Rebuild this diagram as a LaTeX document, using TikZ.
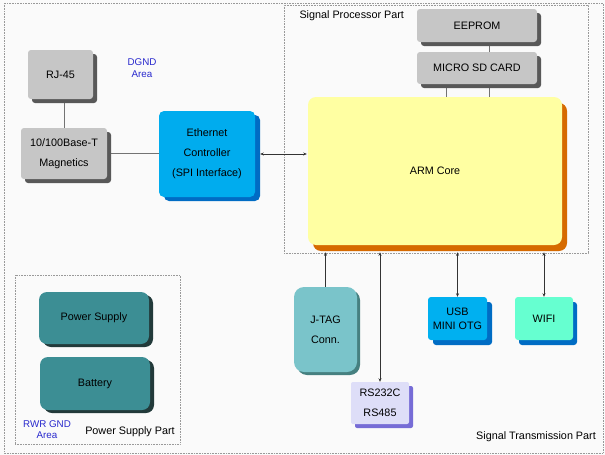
\documentclass[tikz,border=0pt]{standalone}
\usepackage{fontspec}
\setmainfont{Liberation Sans}
\usetikzlibrary{positioning, calc, shadows, arrows.meta}

\pgfdeclarelayer{bg}
\pgfsetlayers{bg,main}

\begin{document}
\begin{tikzpicture}[
    x=1pt, y=-1pt,
    block/.style={rectangle, draw=none, inner sep=0pt, anchor=center, align=center, font=\fontsize{10.8}{20}\selectfont},
    graybox/.style={block, rounded corners=3pt, fill=mygray, drop shadow={shadow xshift=4pt, shadow yshift=-4pt, fill=mygrayshadow, opacity=1}},
    ethbox/.style={block, rounded corners=5pt, fill=myblue, drop shadow={shadow xshift=5pt, shadow yshift=-4pt, fill=myblueshadow, opacity=1}},
    armbox/.style={block, rounded corners=8pt, fill=myyellow, drop shadow={shadow xshift=5pt, shadow yshift=-6pt, fill=myorange, opacity=1}},
    tealbox/.style={block, rounded corners=8pt, fill=myteal, drop shadow={shadow xshift=4pt, shadow yshift=-3pt, fill=mytealshadow, opacity=1}},
    jtagbox/.style={block, rounded corners=10pt, fill=myjtag, drop shadow={shadow xshift=3pt, shadow yshift=-3pt, fill=myjtagshadow, opacity=1}},
    rsbox/.style={block, rounded corners=2pt, fill=mylilac, drop shadow={shadow xshift=4pt, shadow yshift=-4pt, fill=mylilacshadow, opacity=1}},
    usbbox/.style={block, rounded corners=3pt, fill=myusb, drop shadow={shadow xshift=5pt, shadow yshift=-5pt, fill=myblueshadow, opacity=1}},
    wifibox/.style={block, rounded corners=3pt, fill=mywifi, drop shadow={shadow xshift=4pt, shadow yshift=-5pt, fill=myblueshadow, opacity=1}},
    part/.style={draw=gray!80, densely dotted, line width=0.6pt},
    part label/.style={font=\fontsize{10.8}{12}\selectfont},
    area label/.style={font=\fontsize{9.8}{12}\selectfont, text=myareablue, align=center},
    link/.style={draw=gray!90!black, line width=0.6pt},
    bus/.style={draw=black!80, line width=0.6pt, {Stealth[length=3.5pt,width=3pt]}-{Stealth[length=3.5pt,width=3pt]}},
    onebus/.style={draw=black!80, line width=0.6pt, -{Stealth[length=3.5pt,width=3pt]}}
]

% Define colors
\definecolor{mybg}{RGB}{250,250,250}
\definecolor{mygray}{RGB}{198,198,198}
\definecolor{mygrayshadow}{RGB}{88,88,88}
\definecolor{myblue}{RGB}{0,172,238}
\definecolor{myblueshadow}{RGB}{0,108,196}
\definecolor{myyellow}{RGB}{255,255,162}
\definecolor{myorange}{RGB}{214,106,0}
\definecolor{myteal}{RGB}{60,142,148}
\definecolor{mytealshadow}{RGB}{34,58,58}
\definecolor{myjtag}{RGB}{122,196,202}
\definecolor{myjtagshadow}{RGB}{70,128,128}
\definecolor{mylilac}{RGB}{222,222,248}
\definecolor{mylilacshadow}{RGB}{118,108,214}
\definecolor{myusb}{RGB}{0,176,240}
\definecolor{mywifi}{RGB}{102,255,208}
\definecolor{myareablue}{RGB}{40,40,205}

\useasboundingbox (0,0) rectangle (605,455);

% --- Background and part frames ---
\begin{pgfonlayer}{bg}
\fill[mybg] (0,0) rectangle (605,455);
\end{pgfonlayer}
\draw[part] (4,3) rectangle (603,453);
\node[part, rectangle, minimum width=304pt, minimum height=248pt, inner sep=0pt] (sppart) at (436,129) {};
\node[part, rectangle, minimum width=165pt, minimum height=169pt, inner sep=0pt] (pspart) at (97.5,359.5) {};

% --- Signal Processor Part ---
\node[graybox, minimum width=120pt, minimum height=33pt] (eeprom) at (477,25.5) {EEPROM};
\node[graybox, minimum width=120pt, minimum height=32pt] (microsd) at (477,68) {MICRO SD CARD};
\node[armbox, minimum width=254pt, minimum height=148pt] (arm) at (435,171) {ARM Core};

% --- DGND Area ---
\node[graybox, minimum width=65pt, minimum height=49pt] (rj) at (60.5,74.5) {RJ-45};
\node[graybox, minimum width=86pt, minimum height=51pt] (mag) at (64,153.5) {10/100Base-T\\Magnetics};
\node[ethbox, minimum width=96pt, minimum height=86pt] (eth) at (207,154) {Ethernet\\Controller\\(SPI Interface)};

% --- Power Supply Part ---
\node[tealbox, minimum width=110pt, minimum height=52pt] (power) at (94,318) {Power Supply};
\node[tealbox, minimum width=110pt, minimum height=53pt] (battery) at (95,383.5) {Battery};

% --- Signal Transmission Part ---
\node[jtagbox, minimum width=63pt, minimum height=85pt] (jtag) at (325.5,329.5) {J-TAG\\Conn.};
\node[rsbox, minimum width=58pt, minimum height=42pt] (rs) at (380,403) {RS232C\\RS485};
\node[usbbox, minimum width=59pt, minimum height=43pt, font=\fontsize{10.8}{14}\selectfont] (usb) at (457.5,318.5) {USB\\MINI OTG};
\node[wifibox, minimum width=58pt, minimum height=43pt] (wifi) at (544,318.5) {WIFI};

% --- Labels ---
\node[part label, anchor=west] (splabel) at (296,16) {Signal Processor Part};
\node[part label] (pslabel) at (130,432) {Power Supply Part};
\node[part label] (stlabel) at (536,437) {Signal Transmission Part};
\node[area label] (dgnd) at (142,68) {DGND\\Area};
\node[area label, font=\fontsize{9.8}{11}\selectfont] (rwr) at (47,429.5) {RWR GND\\Area};

% --- Connectors ---
\begin{pgfonlayer}{bg}
\draw[link] (rj.south -| mag.north) -- (mag.north);
\draw[link] (mag.east) -- (mag.east -| eth.west);
\draw[link] ([xshift=12pt]eeprom.south) -- ([xshift=12pt]microsd.north);
\draw[link] ([xshift=-31pt]microsd.south) -- ([xshift=-31pt]microsd.south |- arm.north);
\draw[link] ([xshift=12pt]microsd.south) -- ([xshift=12pt]microsd.south |- arm.north);
\end{pgfonlayer}
\draw[bus] ([xshift=5pt]eth.east) -- ([xshift=-1pt]eth.east -| arm.west);
\draw[onebus] (jtag.north) -- ([yshift=1pt]jtag.north |- sppart.south);
\draw[bus] (rs.north) -- ([yshift=1pt]rs.north |- sppart.south);
\draw[bus] (usb.north) -- ([yshift=1pt]usb.north |- sppart.south);
\draw[bus] (wifi.north) -- ([yshift=1pt]wifi.north |- sppart.south);

\end{tikzpicture}
\end{document}
